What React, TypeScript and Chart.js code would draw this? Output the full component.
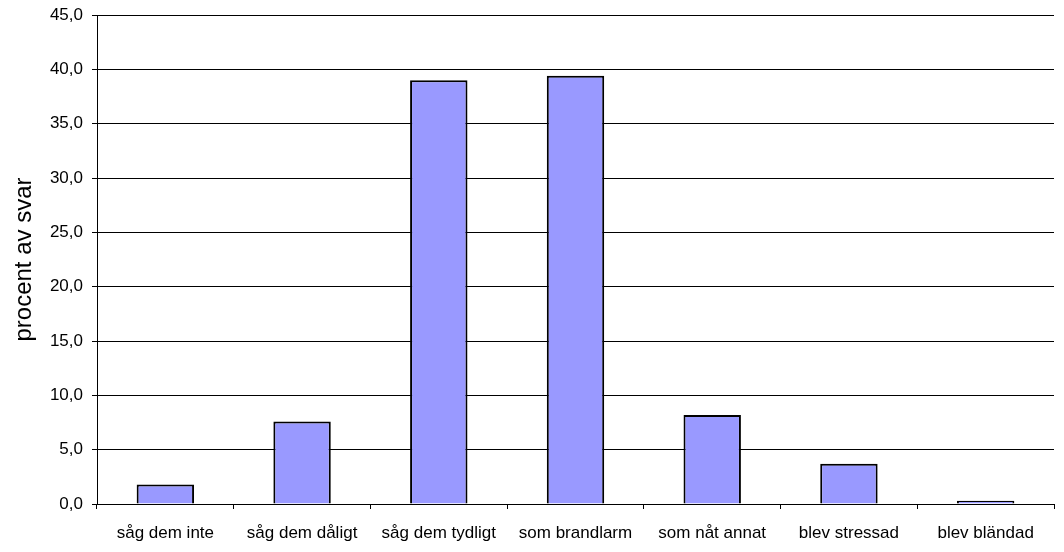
import React, { useEffect, useRef } from "react";
import { Chart, registerables } from "chart.js";

Chart.register(...registerables);

const categories = [
  "såg dem inte",
  "såg dem dåligt",
  "såg dem tydligt",
  "som brandlarm",
  "som nåt annat",
  "blev stressad",
  "blev bländad",
];
const values = [1.8, 7.6, 39.0, 39.4, 8.2, 3.7, 0.3];
const yTitle = "procent av svar";

export default function App() {
  const ref = useRef<HTMLCanvasElement>(null);
  useEffect(() => {
    if (!ref.current) return;
    const font = "'Liberation Sans', Arial, sans-serif";
    const chart = new Chart(ref.current, {
      type: "bar",
      data: {
        labels: categories,
        datasets: [
          {
            data: values,
            backgroundColor: "#9999ff",
            borderColor: "#000000",
            borderWidth: 2,
            categoryPercentage: 1,
            barPercentage: 0.42,
          },
        ],
      },
      options: {
        responsive: false,
        animation: false,
        layout: { padding: { left: 0, top: 15, right: 10, bottom: 0 } },
        plugins: { legend: { display: false }, tooltip: { enabled: false } },
        scales: {
          x: {
            grid: {
              drawOnChartArea: false,
              drawTicks: true,
              tickLength: 5,
              color: "#000000",
              offset: true,
            },
            border: { color: "#000000", width: 1 },
            ticks: {
              color: "#000000",
              font: { family: font, size: 17 },
              maxRotation: 0,
              autoSkip: false,
              padding: 14,
            },
            afterFit: (s: any) => {
              s.height = 48;
            },
          },
          y: {
            min: 0,
            max: 45,
            ticks: {
              stepSize: 5,
              color: "#000000",
              font: { family: font, size: 17 },
              padding: 9,
              callback: (v: any) => Number(v).toFixed(1).replace(".", ","),
            },
            grid: { color: "#000000", tickLength: 5, drawTicks: true },
            border: { color: "#000000", width: 1 },
            title: {
              display: true,
              text: yTitle,
              color: "#000000",
              font: { family: font, size: 24 },
              padding: { top: 10, bottom: 0 },
            },
            afterFit: (s: any) => {
              s.width = 97;
              s.paddingTop = 0;
              s.paddingBottom = 0;
            },
          },
        },
      },
    });
    return () => chart.destroy();
  }, []);
  return (
    <div style={{ position: "fixed", left: 0, top: 0, width: 1064, height: 552, background: "#fff" }}>
      <canvas ref={ref} width={1064} height={552} />
    </div>
  );
}
